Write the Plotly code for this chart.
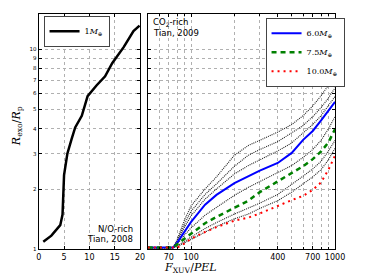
import plotly.graph_objects as go

W, H = 374, 280

# ---- left panel data (N/O-rich, Tian 2008) ----
left_x = [0.9, 2.5, 4.25, 4.7, 5.0, 5.65, 6.5, 7.2, 8.5, 9.65, 11.4, 13.1, 14.5, 16.8, 18.7, 19.9]
left_y = [1.09, 1.17, 1.32, 1.49, 2.35, 3.0, 3.56, 4.06, 4.64, 5.82, 6.58, 7.31, 8.5, 10.26, 12.3, 13.1]

# ---- right panel data (CO2-rich, Tian 2009) ----
fx = [50, 75, 80, 90, 100, 125, 150, 200, 250, 300, 400, 500, 600, 700, 800, 900, 1000]
blue_y = [1.02, 1.02, 1.08, 1.23, 1.37, 1.67, 1.87, 2.14, 2.31, 2.47, 2.70, 3.03, 3.52, 3.90, 4.40, 4.90, 5.45]
green_y = [1.02, 1.02, 1.06, 1.13, 1.19, 1.35, 1.45, 1.61, 1.75, 1.93, 2.19, 2.42, 2.60, 2.82, 3.08, 3.42, 3.99]
red_y = [1.02, 1.02, 1.02, 1.07, 1.13, 1.22, 1.29, 1.39, 1.44, 1.51, 1.65, 1.76, 1.85, 1.98, 2.16, 2.50, 2.94]
dot1_y = [1.02, 1.02, 1.12, 1.40, 1.65, 2.00, 2.30, 2.95, 3.30, 3.50, 3.85, 4.20, 4.65, 5.20, 5.85, 6.60, 7.50]
dot2_y = [1.02, 1.02, 1.10, 1.34, 1.55, 1.88, 2.12, 2.60, 2.95, 3.15, 3.45, 3.80, 4.15, 4.60, 5.10, 5.70, 6.40]
dot3_y = [1.02, 1.02, 1.09, 1.29, 1.47, 1.78, 2.00, 2.38, 2.62, 2.80, 3.10, 3.40, 3.80, 4.20, 4.65, 5.20, 5.80]
dot4_y = [1.02, 1.02, 1.06, 1.18, 1.28, 1.48, 1.62, 1.86, 2.04, 2.18, 2.40, 2.62, 2.88, 3.15, 3.50, 4.00, 4.60]
dot5_y = [1.02, 1.02, 1.04, 1.10, 1.15, 1.27, 1.36, 1.50, 1.60, 1.70, 1.88, 2.10, 2.32, 2.52, 2.75, 3.10, 3.50]
dot6_y = [1.02, 1.02, 1.03, 1.08, 1.12, 1.22, 1.30, 1.42, 1.50, 1.60, 1.75, 1.93, 2.12, 2.30, 2.50, 2.80, 3.20]

y_ticks = [1, 2, 3, 4, 5, 6, 7, 8, 9, 10]
left_x_ticks = [0, 5, 10, 15, 20]
right_x_ticks = [70, 100, 400, 700, 1000]
right_x_minor = [60, 80, 90, 200, 300, 500, 600, 800, 900]

fig = go.Figure()

fig.add_trace(go.Scatter(x=left_x, y=left_y, mode="lines", xaxis="x", yaxis="y",
                         line=dict(color="black", width=2.5),
                         name="1<i>M</i><sub>⊕</sub>", legend="legend"))

for dy in [dot1_y, dot2_y, dot3_y, dot4_y, dot5_y, dot6_y]:
    fig.add_trace(go.Scatter(x=fx, y=dy, mode="lines", xaxis="x2", yaxis="y2",
                             line=dict(color="#222222", width=1.1, dash="1px,1px"),
                             showlegend=False))

fig.add_trace(go.Scatter(x=fx, y=blue_y, mode="lines", xaxis="x2", yaxis="y2",
                         line=dict(color="#0000ff", width=2),
                         name="6.0<i>M</i><sub>⊕</sub>", legend="legend2"))
fig.add_trace(go.Scatter(x=fx, y=green_y, mode="lines", xaxis="x2", yaxis="y2",
                         line=dict(color="#008000", width=2.5, dash="5px,4px"),
                         name="7.5<i>M</i><sub>⊕</sub>", legend="legend2"))
fig.add_trace(go.Scatter(x=fx, y=red_y, mode="lines", xaxis="x2", yaxis="y2",
                         line=dict(color="#ff0000", width=2, dash="2px,4px"),
                         name="10.0<i>M</i><sub>⊕</sub>", legend="legend2"))

grid = dict(showgrid=True, gridcolor="#b0b0b0", griddash="dot", gridwidth=0.7)
frame = dict(showline=True, linecolor="black", linewidth=1, mirror="ticks",
             ticks="inside", ticklen=3, tickcolor="black", zeroline=False)

fig.update_layout(
    width=W, height=H,
    margin=dict(l=0, r=0, t=0, b=0),
    paper_bgcolor="white", plot_bgcolor="white",
    font=dict(family="DejaVu Sans", color="black"),
    xaxis=dict(domain=[37 / W, 142 / W], range=[0, 20], tickvals=left_x_ticks,
               tickfont=dict(size=8), anchor="y", **grid, **frame),
    yaxis=dict(domain=[1 - 252 / H, 1 - 14 / H], type="log", range=[0, 1.176],
               tickvals=y_ticks, ticktext=[str(v) for v in y_ticks],
               tickfont=dict(size=5.5), anchor="x", **grid, **frame),
    xaxis2=dict(domain=[150 / W, 344 / W], type="log", range=[1.69897, 3],
                tickvals=right_x_ticks, ticktext=[str(v) for v in right_x_ticks],
                minor=dict(tickvals=right_x_minor, ticks="inside", ticklen=2,
                           tickcolor="black", showgrid=True, gridcolor="#b0b0b0",
                           griddash="dot", gridwidth=0.7),
                tickfont=dict(size=8), anchor="y2", **grid, **frame),
    yaxis2=dict(domain=[1 - 252 / H, 1 - 14 / H], type="log", range=[0, 1.176],
                tickvals=y_ticks, showticklabels=False, anchor="x2", **grid, **frame),
    legend=dict(x=42 / W, y=1 - 16 / H, xanchor="left", yanchor="top",
                bgcolor="white", bordercolor="#444", borderwidth=1, itemwidth=30,
                font=dict(family="DejaVu Serif", size=8)),
    legend2=dict(x=272 / W, y=1 - 18 / H, xanchor="left", yanchor="top",
                 bgcolor="white", bordercolor="#444", borderwidth=1, itemwidth=30,
                 font=dict(family="DejaVu Serif", size=8)),
    showlegend=True,
)

ann = [
    dict(x=137 / W, y=1 - 231 / H, text="N/O-rich", xanchor="right"),
    dict(x=137 / W, y=1 - 242 / H, text="Tian, 2008", xanchor="right"),
    dict(x=153 / W, y=1 - 23 / H, text="CO<sub>2</sub>-rich", xanchor="left"),
    dict(x=153 / W, y=1 - 33 / H, text="Tian, 2009", xanchor="left"),
]
for a in ann:
    fig.add_annotation(xref="paper", yref="paper", yanchor="middle", showarrow=False,
                       font=dict(size=8.5, family="DejaVu Sans"), **a)

fig.add_annotation(xref="paper", yref="paper", x=14 / W, y=1 - 128 / H, textangle=-90,
                   text="<i>R</i><sub>exo</sub>/<i>R</i><sub>p</sub>", showarrow=False,
                   font=dict(size=11, family="DejaVu Serif"), xanchor="center", yanchor="middle")
fig.add_annotation(xref="paper", yref="paper", x=194 / W, y=1 - 271 / H,
                   text="<i>F</i><sub>XUV</sub>/<i>PEL</i>", showarrow=False,
                   font=dict(size=11, family="DejaVu Serif"), xanchor="center", yanchor="middle")

fig.write_html("out.html", config={"displayModeBar": False},
               post_script="document.body.style.margin='0';")
